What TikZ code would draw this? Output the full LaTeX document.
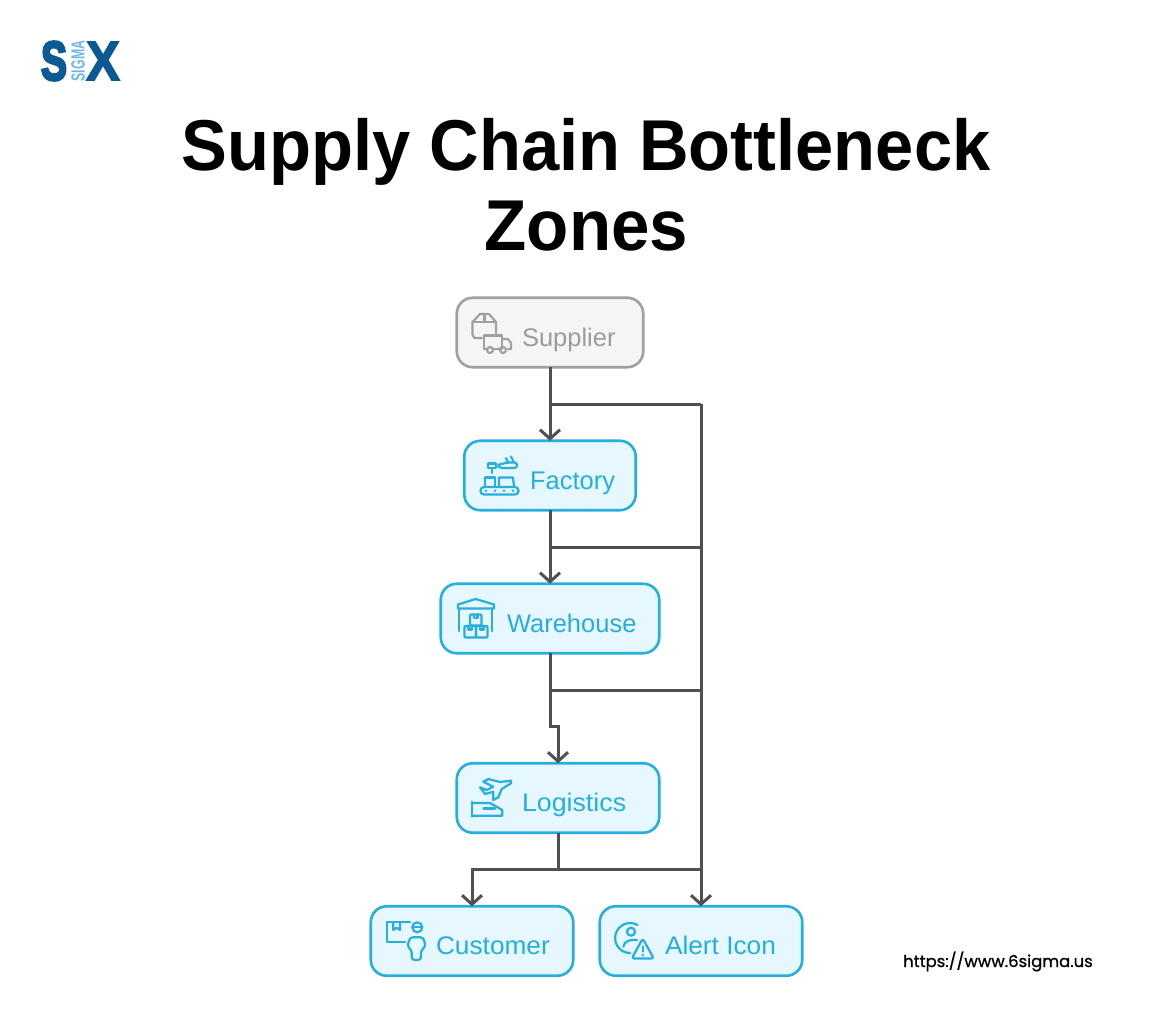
\documentclass[tikz,border=0pt]{standalone}
\usepackage{fontspec}
\setmainfont{Liberation Sans}
\newfontfamily\urlfont[FakeBold=0.9]{Poppins}
\newfontfamily\logofont[FakeBold=2.5]{Liberation Sans Bold}
\newfontfamily\logosfont[FakeBold=5]{Liberation Sans Bold}
\usetikzlibrary{arrows.meta}
\definecolor{boxfill}{HTML}{E6F7FF}
\definecolor{boxline}{HTML}{25AEDE}
\definecolor{greyfill}{HTML}{F5F5F5}
\definecolor{greyline}{HTML}{A0A0A0}
\definecolor{greytext}{HTML}{9C9C9C}
\definecolor{wire}{HTML}{505050}
\definecolor{logodark}{HTML}{0B5A94}
\definecolor{logolight}{HTML}{6DB6E8}
\tikzset{
  flowbox/.style={draw=boxline,fill=boxfill,line width=2.6pt,rounded corners=16pt,inner sep=0pt,outer sep=0pt},
  greybox/.style={flowbox,draw=greyline,fill=greyfill},
  boxlabel/.style={anchor=base west,inner sep=0pt,outer sep=0pt,text=boxline,font=\fontsize{25.5}{30}\selectfont},
  greylabel/.style={boxlabel,text=greytext},
  wireline/.style={draw=wire,line width=3pt},
  flow/.style={wireline,-{Straight Barb[length=9pt,width=20pt,line width=3pt]}},
  icon/.style={draw=boxline,line width=2.2pt,line join=round,line cap=round},
  greyicon/.style={icon,draw=greyline},
  titletext/.style={inner sep=0pt,outer sep=0pt,anchor=base,font=\fontsize{72}{80}\selectfont\bfseries}
}
\begin{document}
\begin{tikzpicture}[x=1pt,y=-1pt]
\useasboundingbox[fill=white] (0,0) rectangle (1173,1031);
% logo
\node[inner sep=0pt,anchor=center,text=logodark] (logoS) at (54,61) {\scalebox{0.78}[1.1]{\logosfont\fontsize{50}{50}\selectfont S}};
\node[inner sep=0pt,anchor=center,text=logolight,rotate=90] (logoSigma) at (78,61) {\scalebox{0.65}[1.0]{\fontsize{19}{19}\selectfont\bfseries SIGMA}};
\node[inner sep=0pt,anchor=center,text=logodark] (logoX) at (103,61) {\scalebox{1.02}[1.12]{\logofont\fontsize{50}{50}\selectfont X}};
% title
\node[titletext] (title1) at (586,170) {\scalebox{0.954}[1]{Supply Chain Bottleneck}};
\node[titletext] (title2) at (586.5,250) {\scalebox{0.96}[1]{Zones}};
% boxes
\node[greybox,minimum width=186.5pt,minimum height=69.5pt] (supplier) at (550,332.5) {};
\node[flowbox,minimum width=171.5pt,minimum height=69.5pt] (factory) at (550,475.5) {};
\node[flowbox,minimum width=218.5pt,minimum height=69.5pt] (warehouse) at (550,618.5) {};
\node[flowbox,minimum width=202.5pt,minimum height=69.5pt] (logistics) at (558,798) {};
\node[flowbox,minimum width=202.5pt,minimum height=69.5pt] (customer) at (472,941) {};
\node[flowbox,minimum width=202.5pt,minimum height=69.5pt] (alert) at (701,941) {};
% labels
\node[greylabel] (lsupplier) at (522,346) {Supplier};
\node[boxlabel] (lfactory) at (530,489) {Factory};
\node[boxlabel] (lwarehouse) at (507,632) {Warehouse};
\node[boxlabel] (llogistics) at (522,811) {\scalebox{1.05}[1]{Logistics}};
\node[boxlabel] (lcustomer) at (436,954) {\scalebox{1.03}[1]{Customer}};
\node[boxlabel] (lalert) at (665,954) {\scalebox{1.03}[1]{Alert Icon}};
\node[inner sep=0pt,anchor=base west,font=\urlfont\fontsize{16.4}{20}\selectfont] (url) at (903,967) {https://www.6sigma.us};
% junctions
\coordinate (j1) at (supplier.south |- 0,404);
\coordinate (j2) at (factory.south |- 0,547);
\coordinate (j3) at (warehouse.south |- 0,690);
\coordinate (r1) at (alert.north |- j1);
\coordinate (r2) at (alert.north |- j2);
\coordinate (r3) at (alert.north |- j3);
\coordinate (bend1) at (warehouse.south |- 0,726);
\coordinate (bend2) at (logistics.north |- 0,726);
\coordinate (j4) at (logistics.south |- 0,869);
\coordinate (r4) at (alert.north |- j4);
\coordinate (c4) at (customer.north |- j4);
% connectors
\draw[flow] (supplier.south) -- (factory.north);
\draw[flow] (factory.south) -- (warehouse.north);
\draw[flow] (warehouse.south) -- (bend1) -- (bend2) -- (logistics.north);
\draw[wireline] (logistics.south) -- (j4);
\draw[flow] (r4) -- (c4) -- (customer.north);
\draw[wireline] (j1) -- (r1);
\draw[wireline] (j2) -- (r2);
\draw[wireline] (j3) -- (r3);
\draw[flow] (r1) -- (alert.north);
% supplier icon
\draw[greyicon] (482,338) -- (475,338) to[out=180,in=90] (472.5,335) -- (472.5,322) -- (480,314) -- (489,314) -- (496,322) -- (496,333);
\draw[greyicon] (472.5,322) -- (496,322) (484.5,314) -- (484.5,322);
\draw[greyicon] (487,349) -- (484,349) -- (484,335.5) -- (502,335.5) -- (502,349) -- (499,349) (493,349) -- (499,349);
\draw[greyicon] (502,339) -- (508,339) -- (511,343) -- (511,349) -- (508,349);
\draw[greyicon] (490,350) circle[radius=3] (503,350) circle[radius=3];
% factory icon
\draw[icon,rounded corners=3.5pt] (480.5,487) rectangle (518.5,494.5);
\foreach \xx in {486,495,504,513}{\fill[boxline] (\xx,490.7) circle[radius=1.3];}
\draw[icon] (485,486.5) -- (485,477.5) -- (495,477.5) -- (495,486.5);
\draw[icon] (499,486.5) -- (499,477.5) -- (513,477.5) -- (514,486.5);
\draw[icon] (488,463.5) rectangle (496,468);
\draw[icon] (492,468) -- (492,473);
\draw[icon,rounded corners=2.5pt] (497,465) -- (508,462.5) -- (517,462.5) -- (517,468) -- (500,468) -- cycle;
\draw[icon] (508,462.5) -- (506,458) (514,462.5) -- (511,456.5);
% warehouse icon
\draw[icon] (458,608.5) -- (458,604.5) -- (475.7,599) -- (494,604.5) -- (494,608.5) -- cycle;
\draw[icon] (459.3,609) -- (459.3,631) (492.3,609) -- (492.3,631);
\draw[icon,rounded corners=1pt] (470,614.5) rectangle (481.5,625.5);
\draw[icon,rounded corners=1pt] (464.5,626) rectangle (476,637.5);
\draw[icon,rounded corners=1pt] (476,626) rectangle (487.5,637.5);
\draw[icon] (474,614.5) -- (474,618) -- (477.5,618) -- (477.5,614.5);
\draw[icon] (468.5,626) -- (468.5,629.5) -- (472,629.5) -- (472,626);
\draw[icon] (480,626) -- (480,629.5) -- (483.5,629.5) -- (483.5,626);
% logistics icon
\draw[icon] (511,780.7) -- (500,782) -- (488.3,779) -- (483.3,781.7) -- (493.3,786.7) -- (486.7,790) -- (480,787.3) -- (485,794) -- (493.3,791.7) -- (493.3,800) -- (498.3,797.3) -- (501.7,789) -- (511,783.3) -- cycle;
\draw[icon] (472.3,801.7) -- (472.3,816.7);
\draw[icon] (472.3,803) -- (490,803) -- (502.3,810) -- (502.3,815.7) -- (472.3,815.7);
\draw[icon] (483.5,808.5) -- (495,808.5);
% customer icon
\draw[icon] (405,941.7) -- (386.7,941.7) -- (386.7,922.3) -- (410,922.3);
\draw[icon] (393.3,922.3) -- (393.3,930) -- (396.7,927.7) -- (400,930) -- (400,922.3);
\draw[icon] (417.3,927.3) circle[radius=5];
\draw[icon] (412.3,927.3) -- (422.3,927.3);
\draw[icon,rounded corners=3pt] (411.7,950) -- (411.7,960) -- (421,960) -- (421,950) -- (425.7,946.7) -- (423.3,937.3) -- (410,937.3) -- (407.3,946.7) -- cycle;
% alert icon
\draw[icon] (637.5,925) arc[start angle=-60.5,end angle=-270,radius=15];
\draw[icon] (631,931.7) circle[radius=4];
\draw[icon] (623.3,946.7) .. controls (624,941) and (631,939) .. (637,940);
\draw[icon,rounded corners=2.5pt] (642.7,938.5) -- (653.8,958.5) -- (631.8,958.5) -- cycle;
\draw[icon] (642.7,946.5) -- (642.7,951.5);
\fill[boxline] (642.7,955) circle[radius=1.4];
\end{tikzpicture}
\end{document}
